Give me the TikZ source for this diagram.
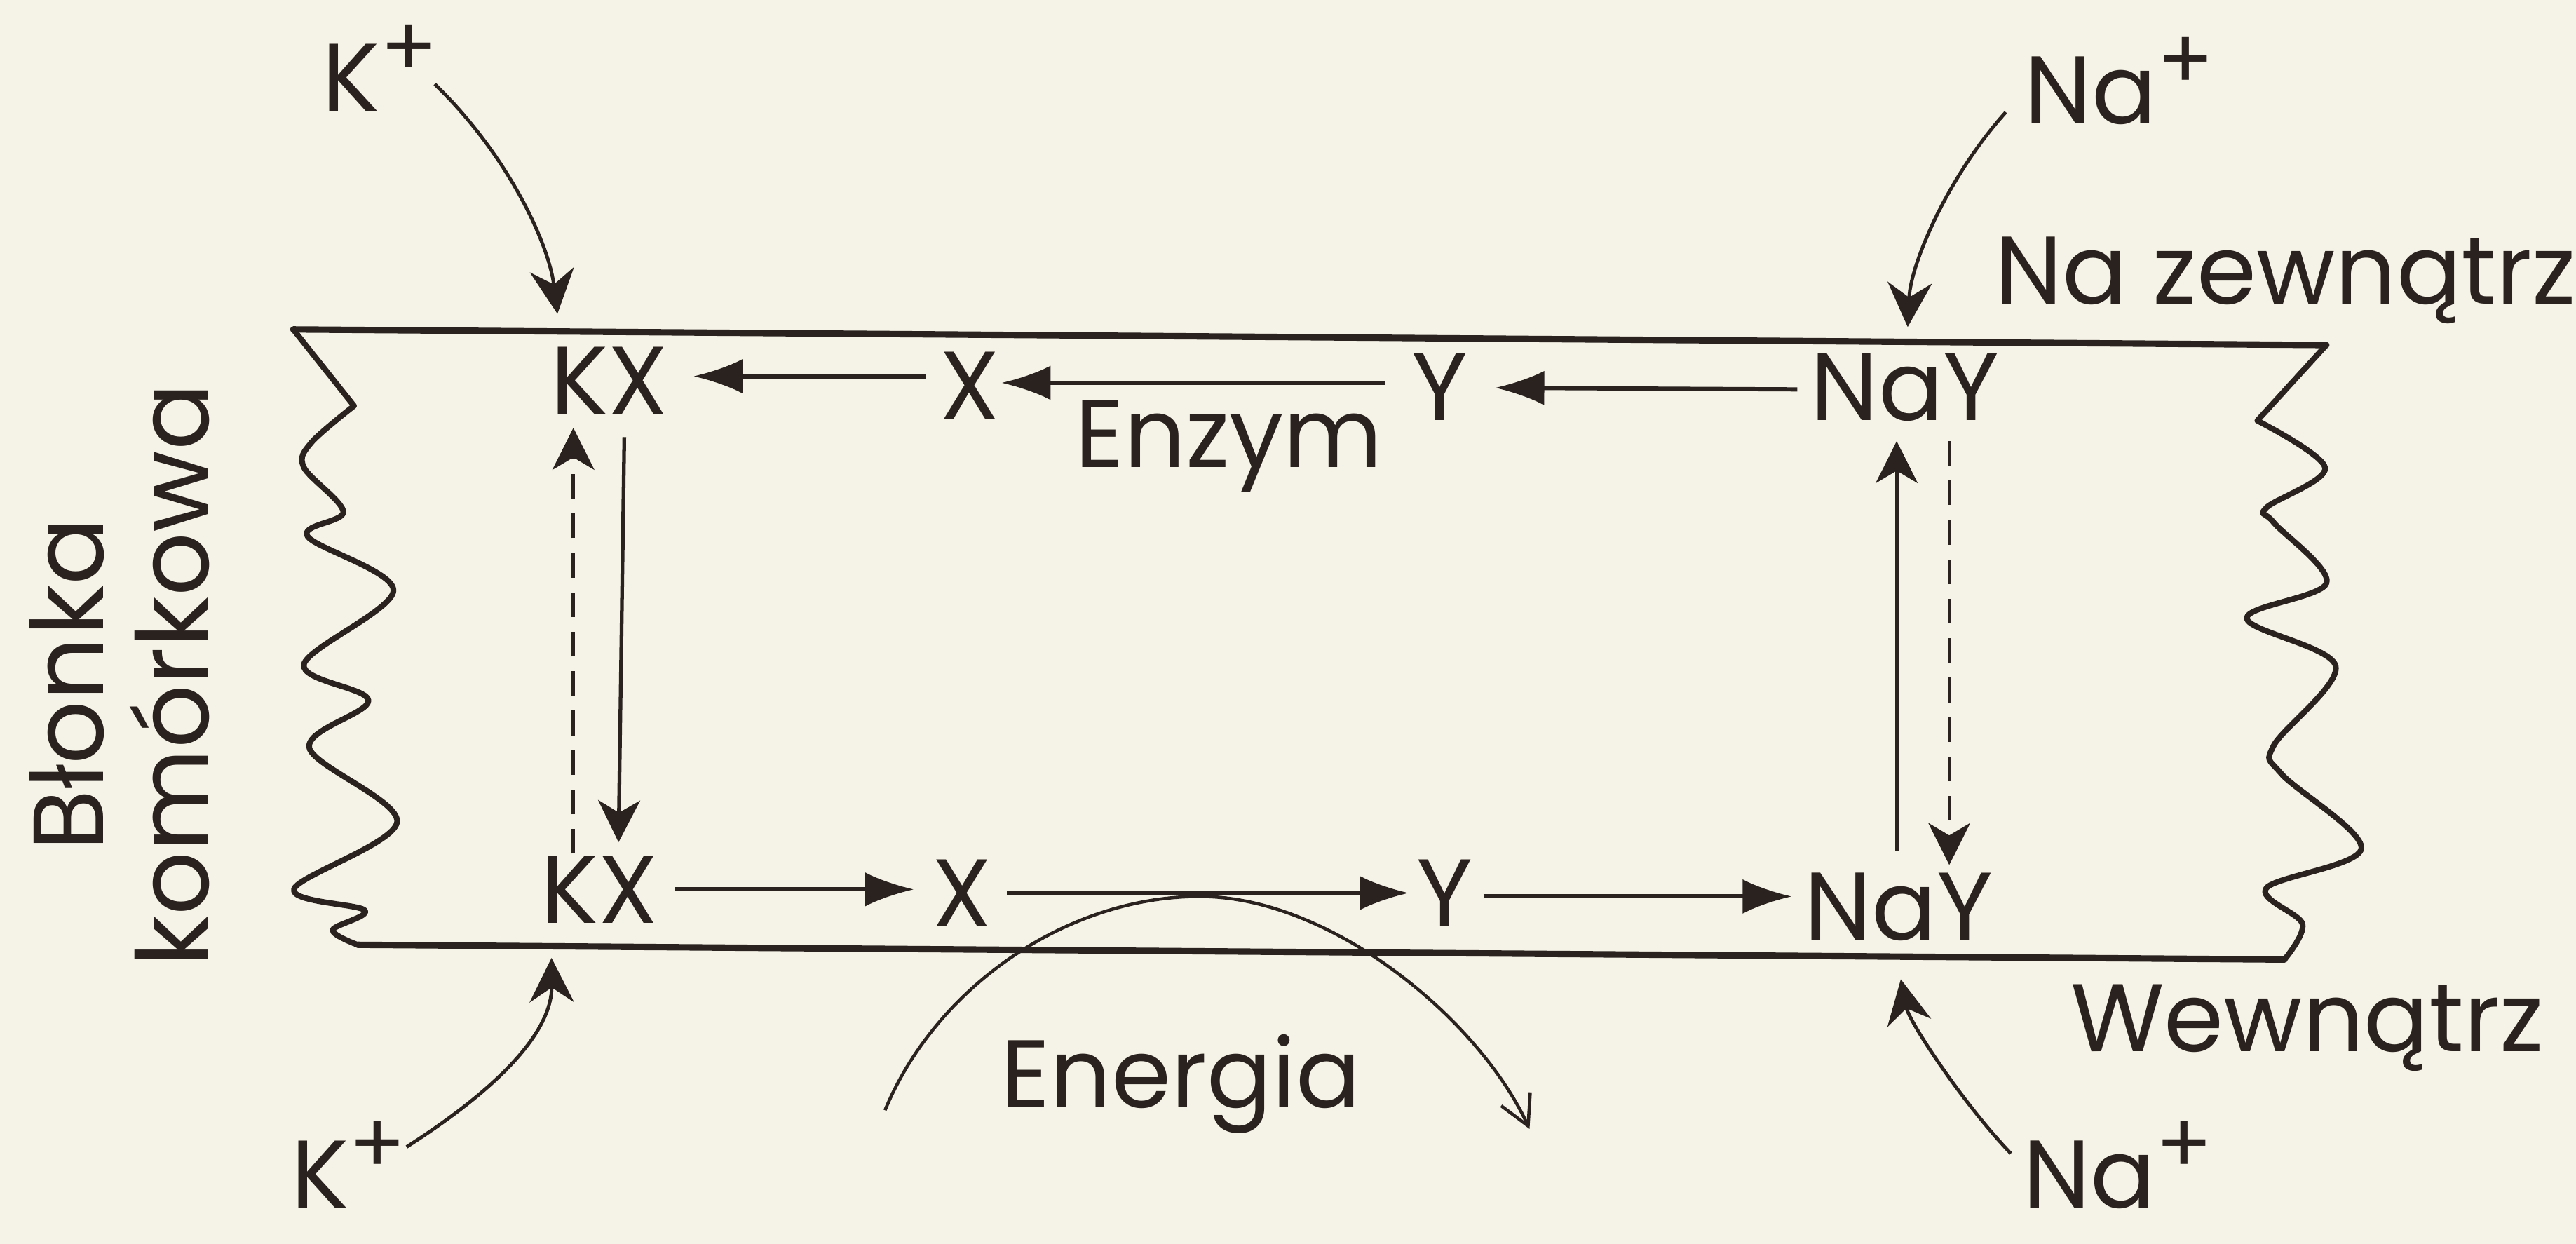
\documentclass[tikz,border=0pt]{standalone}
\usepackage{fontspec}
\setmainfont{Poppins}
\usetikzlibrary{arrows.meta}
\definecolor{paper}{RGB}{245,242,231}
\definecolor{ink}{RGB}{42,34,30}
\newcommand{\plusion}{\raisebox{14pt}{\fontsize{34}{34}\selectfont +}}
\tikzset{
  membrane/.style={line width=2.6pt, draw=ink, line cap=round, line join=round},
  wave/.style={line width=2.3pt, draw=ink, line join=round, line cap=round},
  harr/.style={line width=1.7pt, draw=ink, -{Latex[length=20pt,width=14pt]}},
  varr/.style={line width=1.5pt, draw=ink, -{Stealth[length=17pt,width=17pt,inset=5pt]}},
  vdash/.style={varr, dash pattern=on 10pt off 6pt},
  ionarr/.style={line width=1.4pt, draw=ink, -{Stealth[length=18pt,width=18pt,inset=6pt]}},
  enarr/.style={line width=1.3pt, draw=ink, -{Straight Barb[length=12pt,width=13pt]}},
  lbl/.style={font=\fontsize{39}{45}\selectfont, text=ink, inner sep=0pt, anchor=base west},
  sidelbl/.style={lbl, font=\fontsize{40.5}{46}\selectfont, rotate=90},
}
\begin{document}
\begin{tikzpicture}[x=0.023431cm, y=-0.023431cm]
\useasboundingbox (0,0) rectangle (1568,757);
\fill[paper] (0,0) rectangle (1568,757);
\clip (0,0) rectangle (1568,757);

% membrane
\coordinate (TL) at (178.5,200.5);
\coordinate (TR) at (1416,210);
\coordinate (BL) at (217.7,575);
\coordinate (BR) at (1390.5,584);
\draw[membrane] (TL) -- (TR);
\draw[membrane] (BL) -- (BR);
\draw[wave] (TL) -- (215.5,247) plot[smooth, tension=0.55] coordinates {(215.5,247) (189.4,269.5) (185,284.5) (209,311.5) (187.2,326.4) (239.5,359.4) (185,404.3) (224.3,426.3) (188.3,455.2) (241.7,500.2) (179,541) (222,554) (202.5,566) (217.7,575)};
\draw[wave] (TR) -- (1374,256) plot[smooth, tension=0.55] coordinates {(1374,256) (1415.3,284.8) (1379.5,309) (1384,318) (1416.2,354.7) (1367.6,376.4) (1421.7,405.4) (1384,453.7) (1388.7,471) (1437.3,516.4) (1379.5,540.5) (1401.5,562.3) (1390.5,584)};

% labels
\node[lbl] (Kt) at (196,67.6) {K\plusion};
\node[lbl] (Nat) at (1232,75.4) {Na\plusion};
\node[lbl] (out) at (1214,185) {Na zewnątrz};
\node[lbl] (KXt) at (335,252) {KX};
\node[lbl] (Xt) at (572,255) {X};
\node[lbl] (Yt) at (859,256) {Y};
\node[lbl] (NaYt) at (1102,256) {NaY};
\node[lbl] (enz) at (654,284.5) {Enzym};
\node[lbl] (KXb) at (329,562) {KX};
\node[lbl] (Xb) at (567,564) {X};
\node[lbl] (Yb) at (862,564) {Y};
\node[lbl] (NaYb) at (1098,572) {NaY};
\node[lbl] (in) at (1260,640) {Wewnątrz};
\node[lbl] (en) at (609,674.3) {Energia};
\node[lbl] (Kb) at (177,735) {K\plusion};
\node[lbl] (Nab) at (1231,735) {Na\plusion};
\node[sidelbl] (bl1) at (63,518) {Błonka};
\node[sidelbl] (bl2) at (127,588.6) {komórkowa};

% top row, right to left
\coordinate (t1) at (1094,237); \coordinate (t2) at (910,236);
\coordinate (t3) at (843,233);  \coordinate (t4) at (609.5,233);
\coordinate (t5) at (563.5,229); \coordinate (t6) at (422,229);
\draw[harr] (t1) -- (t2);
\draw[harr] (t3) -- (t4);
\draw[harr] (t5) -- (t6);

% bottom row, left to right
\coordinate (b1) at (411,541.3); \coordinate (b2) at (556.4,541.3);
\coordinate (b3) at (613,543.5); \coordinate (b4) at (857.6,543.5);
\coordinate (b5) at (903,545.6); \coordinate (b6) at (1090.7,545.6);
\draw[harr] (b1) -- (b2);
\draw[harr] (b3) -- (b4);
\draw[harr] (b5) -- (b6);

% vertical arrows
\coordinate (l1) at (349,519.5); \coordinate (l2) at (349,260.4);
\coordinate (l3) at (380,266);   \coordinate (l4) at (376.5,512.6);
\coordinate (r1) at (1154.5,518); \coordinate (r2) at (1154.5,268.5);
\coordinate (r3) at (1186.5,268.5); \coordinate (r4) at (1186.5,526.4);
\draw[vdash] (l1) -- (l2);
\draw[varr] (l3) -- (l4);
\draw[varr] (r1) -- (r2);
\draw[vdash] (r3) -- (r4);

% ion arrows
\coordinate (k1) at (264.6,51.2); \coordinate (k2) at (339.3,191);
\draw[ionarr] (k1) .. controls (309,94) and (334,148) .. (k2);
\coordinate (n1) at (1220.9,68.3); \coordinate (n2) at (1161.2,199);
\draw[ionarr] (n1) .. controls (1186,107) and (1163,160) .. (n2);
\coordinate (k3) at (247.5,698); \coordinate (k4) at (335.7,583);
\draw[ionarr] (k3) .. controls (310,658) and (336,625) .. (k4);
\coordinate (n3) at (1224,702); \coordinate (n4) at (1157,596);
\draw[ionarr] (n3) .. controls (1196,673) and (1162,622) .. (n4);

% energy arc
\coordinate (e1) at (538.7,675.7); \coordinate (e2) at (730.3,545.6); \coordinate (e3) at (931,687.1);
\draw[enarr] (e1) .. controls (570,600) and (650,545.6) .. (e2) .. controls (810,545.6) and (900,620) .. (e3);
\end{tikzpicture}
\end{document}
